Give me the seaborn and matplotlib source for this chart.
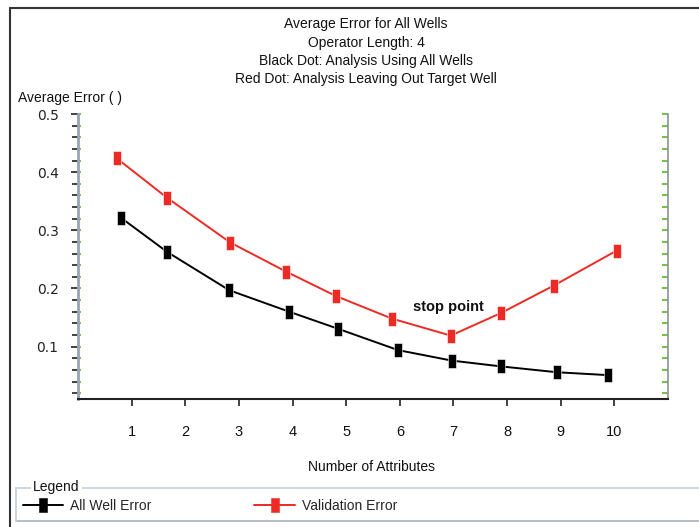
import numpy as np
import pandas as pd
import seaborn as sns
import matplotlib
matplotlib.use("Agg")
import matplotlib.pyplot as plt
from matplotlib.path import Path
from matplotlib.lines import Line2D
from matplotlib.ticker import MultipleLocator, FixedLocator

# ---- data ----
all_well_x = [0.81, 1.66, 2.82, 3.94, 4.84, 5.97, 6.97, 7.89, 8.93, 9.89]
all_well_err = [0.321, 0.263, 0.197, 0.160, 0.131, 0.094, 0.076, 0.066, 0.056, 0.051]
valid_x = [0.72, 1.66, 2.84, 3.88, 4.81, 5.86, 6.95, 7.89, 8.87, 10.04]
valid_err = [0.424, 0.356, 0.279, 0.229, 0.187, 0.148, 0.119, 0.158, 0.205, 0.265]
series_names = ["All Well Error", "Validation Error"]
x_ticks = [1, 2, 3, 4, 5, 6, 7, 8, 9, 10]
y_ticks = [0.1, 0.2, 0.3, 0.4, 0.5]
title_lines = ["Average Error for All Wells", "Operator Length: 4",
               "Black Dot: Analysis Using All Wells",
               "Red Dot: Analysis Leaving Out Target Well"]

df = pd.DataFrame({
    "x": all_well_x + valid_x,
    "err": all_well_err + valid_err,
    "series": [series_names[0]] * len(all_well_x) + [series_names[1]] * len(valid_x),
})

sns.set_theme(style="white")
plt.rcParams["font.family"] = ["Liberation Sans", "DejaVu Sans"]

W, H = 699, 527
fig = plt.figure(figsize=(W / 100, H / 100), dpi=100)
ax = fig.add_axes([78 / W, 1 - 399 / H, (668 - 78) / W, (399 - 114) / H])

RED = "#ee2a24"
palette = {series_names[0]: "black", series_names[1]: RED}
rect = Path([(-0.28, -0.5), (0.28, -0.5), (0.28, 0.5), (-0.28, 0.5), (-0.28, -0.5)],
            [Path.MOVETO, Path.LINETO, Path.LINETO, Path.LINETO, Path.CLOSEPOLY])

sns.lineplot(data=df, x="x", y="err", hue="series", palette=palette, ax=ax,
             sort=False, estimator=None, legend=False, linewidth=1.4,
             marker=rect, markersize=10.5, markeredgewidth=0.4)

ax.set_xlim(0, 11)
ax.set_ylim(0.01, 0.5)
ax.set_xlabel("")
ax.set_ylabel("")

# spines
ax.spines["top"].set_visible(False)
ax.spines["bottom"].set_color("#222222")
ax.spines["bottom"].set_linewidth(1.5)
ax.spines["left"].set_color("#9aa4b0")
ax.spines["left"].set_linewidth(2.0)
ax.spines["right"].set_color("#8a929c")
ax.spines["right"].set_linewidth(1.2)

ax.xaxis.set_major_locator(FixedLocator(x_ticks))
ax.yaxis.set_major_locator(FixedLocator(y_ticks))
ax.yaxis.set_minor_locator(MultipleLocator(0.02))
ax.tick_params(axis="x", which="major", bottom=True, direction="out", length=5,
               width=1.2, color="#222222", pad=14, labelsize=10.5, labelcolor="#111111")
ax.tick_params(axis="y", which="major", left=True, direction="out", length=5,
               width=1.2, color="#222222", pad=9, labelsize=10, labelcolor="#222222")
ax.tick_params(axis="y", which="minor", left=True, direction="out", length=4,
               width=1.2, color="#222222")
for lbl in ax.get_yticklabels():
    lbl.set_fontfamily("DejaVu Sans")

# green inner ticks on left and right
for side, ln in (("left", 2.5), ("right", 4.5)):
    sec = ax.secondary_yaxis(side)
    sec.yaxis.set_major_locator(MultipleLocator(0.02))
    sec.tick_params(axis="y", which="major", direction="in", length=ln, width=1.5,
                    color="#7cc242", labelleft=False, labelright=False)
    sec.spines[side].set_visible(False)

# annotation
ax.text(6.25, 0.169, "stop point", fontsize=10.5, fontweight="bold",
        va="center", ha="left", color="#111111")

# titles
for t, yy in zip(title_lines, [24, 42.7, 61, 79]):
    fig.text(366 / W, 1 - yy / H, t, ha="center", va="center", fontsize=10, color="#111111")
fig.text(18 / W, 1 - 98 / H, "Average Error ( )", ha="left", va="center", fontsize=10,
         color="#111111")
fig.text(371 / W, 1 - 467 / H, "Number of Attributes", ha="center", va="center",
         fontsize=10, color="#111111")

# outer frame
fig.add_artist(Line2D([10 / W, 10 / W], [0, 1 - 8 / H], transform=fig.transFigure,
                      color="#333333", lw=1.5))
fig.add_artist(Line2D([10 / W, 1], [1 - 8 / H, 1 - 8 / H], transform=fig.transFigure,
                      color="#333333", lw=1.5))

# legend box
lc = "#c9d2d8"
fig.add_artist(Line2D([16 / W, 1], [1 - 488 / H, 1 - 488 / H], transform=fig.transFigure, color=lc, lw=1.3))
fig.add_artist(Line2D([16 / W, 1], [1 - 521 / H, 1 - 521 / H], transform=fig.transFigure, color="#b0b8c0", lw=1.3))
fig.add_artist(Line2D([16 / W, 16 / W], [1 - 521 / H, 1 - 488 / H], transform=fig.transFigure, color=lc, lw=1.3))
fig.text(33 / W, 1 - 487 / H, "Legend", ha="left", va="center", fontsize=10, color="#111111",
         bbox=dict(facecolor="white", edgecolor="none", pad=1.5))

handles = [Line2D([], [], color=palette[n], lw=1.4, marker=rect, markersize=10.5,
                  markeredgewidth=0.4) for n in series_names]
fig.legend(handles, series_names, loc="center left", bbox_to_anchor=(23 / W, 1 - 506 / H),
           ncol=2, frameon=False, handlelength=2.9, handletextpad=0.5,
           columnspacing=7.4, borderpad=0, borderaxespad=0, fontsize=10)

fig.savefig("out.png", dpi=100)
